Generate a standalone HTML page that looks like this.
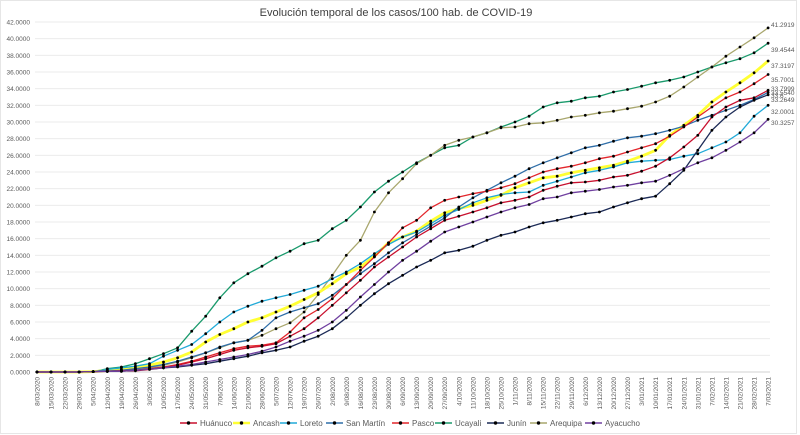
<!DOCTYPE html>
<html><head><meta charset="utf-8"><style>
body{margin:0;background:#fff;}
svg{display:block;font-family:"Liberation Sans",sans-serif;}
</style></head><body>
<svg id="c" width="800" height="435" viewBox="0 0 800 435" xmlns="http://www.w3.org/2000/svg">
<rect x="0" y="0" width="800" height="435" fill="#fff"/>
<rect x="0.5" y="0.5" width="796" height="433" fill="none" stroke="#e6e6e6"/>
<text x="396" y="16" text-anchor="middle" font-size="11" fill="#404040">Evolución temporal de los casos/100 hab. de COVID-19</text>
<g id="g"></g>
</svg>
<script>
var g=document.getElementById('g'),NS='http://www.w3.org/2000/svg';
function el(t,a,txt){var e=document.createElementNS(NS,t);for(var k in a)e.setAttribute(k,a[k]);if(txt!=null)e.textContent=txt;g.appendChild(e);return e;}
function X(i){return 37+i*14.06;}
function Y(v){return 372-v*350/42;}
for(var v=0;v<=42;v+=2){
 el('line',{x1:35,x2:770,y1:Y(v),y2:Y(v),stroke:v==0?'#d0d0d0':'#ebebeb','stroke-width':1});
 el('text',{x:30,y:Y(v)+2.5,'text-anchor':'end','font-size':6.5,fill:'#595959'},v+'.0000');
}
for(var i=0;i<53;i++){
 var dt=new Date(2020,2,8+7*i);
 var s=dt.getDate()+'/'+String(dt.getMonth()+1).padStart(2,'0')+'/'+dt.getFullYear();
 el('text',{x:0,y:0,'font-size':6.5,fill:'#595959','text-anchor':'end',transform:'translate('+(X(i)+2.5)+',377) rotate(-90)'},s);
}
function mk(pts){
 var keys=Object.keys(pts).map(Number).sort(function(a,b){return a-b});var out=[];
 for(var i=0;i<53;i++){var v=pts[keys[0]];
  for(var j=0;j<keys.length-1;j++){if(i>=keys[j]&&i<=keys[j+1]){var t=(i-keys[j])/(keys[j+1]-keys[j]);v=pts[keys[j]]+(pts[keys[j+1]]-pts[keys[j]])*t;break;}}
  if(i>keys[keys.length-1])v=pts[keys[keys.length-1]];
  out.push(v);}
 return out;}
function arr(_s,list){var start=53-list.length;var o={0:0,3:0};if(start>4)o[4]=0.05;for(var k=0;k<list.length;k++)o[start+k]=list[k];return o;}
var S=[
 {n:'Ucayali',c:'#1a9a6c',w:1.3,d:mk(arr(5,[0.4,0.6,1.0,1.6,2.2,2.9,4.9,6.7,8.9,10.7,11.8,12.7,13.7,14.5,15.4,15.8,17.2,18.2,19.8,21.6,22.9,24,25.1,26,26.9,27.2,28.2,28.7,29.4,30,30.7,31.8,32.3,32.5,32.9,33.1,33.6,33.9,34.3,34.7,35,35.4,36,36.6,37.1,37.6,38.3,39.4544]))},
 {n:'Arequipa',c:'#a9a76e',w:1.3,d:mk(arr(6,[0.1,0.3,0.5,0.8,1.2,1.7,2.3,2.9,3.5,3.8,4.4,5.2,5.9,7.2,9.3,11.6,14,15.8,19.2,21.5,23.2,25,26,27.2,27.8,28.2,28.7,29.3,29.4,29.8,29.9,30.2,30.6,30.8,31.1,31.3,31.6,31.9,32.4,33.1,34.2,35.4,36.6,37.9,39,40.1,41.2919]))},
 {n:'Ancash',c:'#ffff33',w:2.8,d:mk(arr(6,[0.3,0.5,0.8,1.2,1.7,2.4,3.6,4.5,5.2,6,6.5,7.2,7.9,8.7,9.5,10.6,11.8,12.6,13.9,15.5,16.2,16.9,18.1,19.1,19.6,20,20.6,21.2,22.1,22.7,23.3,23.5,23.9,24.2,24.5,24.8,25.3,25.9,26.6,28.4,29.6,30.8,32.4,33.6,34.7,35.9,37.3197]))},
 {n:'Loreto',c:'#22aad8',w:1.3,d:mk(arr(5,[0.3,0.5,0.7,1.0,1.9,2.6,3.3,4.6,6,7.2,7.9,8.5,8.9,9.3,9.8,10.3,11.2,12.0,13.0,14.2,15.3,16.2,16.8,17.8,18.8,19.5,20.3,20.9,21.3,21.5,21.6,22.4,22.9,23.4,23.9,24.2,24.6,25.1,25.3,25.4,25.5,25.9,26.2,26.9,27.6,28.7,30.7,32.0001]))},
 {n:'San Martín',c:'#2f6ea8',w:1.3,d:mk(arr(6,[0.2,0.4,0.6,0.9,1.3,1.8,2.3,3.0,3.5,3.8,5.0,6.5,7.2,7.7,8.2,9.2,10.5,11.8,13,14.3,15.5,16.5,17.5,18.5,19.8,20.9,21.8,22.7,23.5,24.4,25.1,25.7,26.3,26.9,27.2,27.7,28.1,28.3,28.6,29,29.5,30.2,30.8,31.4,32,32.7,33.5540]))},
 {n:'Pasco',c:'#e3262c',w:1.3,d:mk(arr(6,[0.2,0.4,0.6,0.9,1.3,1.8,2.3,2.8,3.1,3.2,3.5,4.8,6.5,7.5,8.8,10.5,12.2,13.8,15.5,17.3,18.2,19.7,20.6,21,21.4,21.7,22.1,22.6,23.3,24,24.4,24.7,25.1,25.6,25.9,26.4,26.9,27.4,28.3,29.4,30.6,31.8,32.9,33.6,34.6,35.7001]))},
 {n:'Huánuco',c:'#c8102e',w:1.3,d:mk(arr(6,[0.15,0.3,0.5,0.8,1.2,1.6,2.1,2.6,2.9,3.1,3.4,4.3,5.2,6.5,8.0,9.5,11.0,12.6,13.8,15,16.2,17.2,18.2,18.7,19.2,19.7,20.3,20.6,21,21.8,22.3,22.7,22.8,23,23.4,23.6,24.1,24.7,25.7,27,28.4,30.6,31.8,32.6,32.9,33.7999]))},
 {n:'Junín',c:'#1c2b57',w:1.3,d:mk(arr(6,[0.1,0.2,0.35,0.5,0.6,0.8,1.0,1.3,1.6,1.9,2.3,2.6,3.0,3.7,4.3,5.2,6.5,8.0,9.4,10.6,11.6,12.6,13.4,14.3,14.6,15.1,15.8,16.4,16.8,17.4,17.9,18.2,18.6,19,19.2,19.8,20.3,20.8,21.1,22.6,24.2,26.6,29,30.6,31.8,32.6,33.2649]))},
 {n:'Ayacucho',c:'#7040a0',w:1.3,d:mk(arr(6,[0.1,0.2,0.35,0.5,0.7,0.9,1.2,1.5,1.8,2.1,2.5,3.0,3.7,4.3,5.0,6.0,7.4,9.0,10.5,12,13.4,14.5,15.7,16.8,17.4,18,18.6,19.2,19.7,20.1,20.8,21,21.5,21.7,21.9,22.2,22.4,22.7,22.9,23.6,24.4,25.1,25.7,26.6,27.6,28.7,30.3257]))}
];
S.forEach(function(s){
 var p=s.d.map(function(v,i){return X(i).toFixed(1)+','+Y(v).toFixed(1)}).join(' ');
 el('polyline',{points:p,fill:'none',stroke:s.c,'stroke-width':s.w,'stroke-linejoin':'round'});
});
S.forEach(function(s){s.d.forEach(function(v,i){el('circle',{cx:X(i).toFixed(1),cy:Y(v).toFixed(1),r:1.4,fill:'#000'});});});
[['41.2919',25],['39.4544',50],['37.3197',66],['35.7001',80],['33.7999',89],['33.5540',93],['33.6',96],['33.2649',100],['32.0001',112],['30.3257',123]].forEach(function(l){
 el('text',{x:771,y:l[1]+2,'font-size':6.5,fill:'#595959'},l[0]);
});
var L=[['Huánuco','#c8102e',180],['Ancash','#ffff33',233],['Loreto','#22aad8',280],['San Martín','#2f6ea8',326],['Pasco','#e3262c',392],['Ucayali','#1a9a6c',435],['Junín','#1c2b57',487],['Arequipa','#a9a76e',530],['Ayacucho','#7040a0',585]];
L.forEach(function(l){
 el('line',{x1:l[2],x2:l[2]+17,y1:423,y2:423,stroke:l[1],'stroke-width':l[0]=='Ancash'?2.5:1.5});
 el('circle',{cx:l[2]+8.5,cy:423,r:1.7,fill:'#000'});
 el('text',{x:l[2]+20,y:426,'font-size':8,fill:'#595959'},l[0]);
});
</script>
</body></html>
